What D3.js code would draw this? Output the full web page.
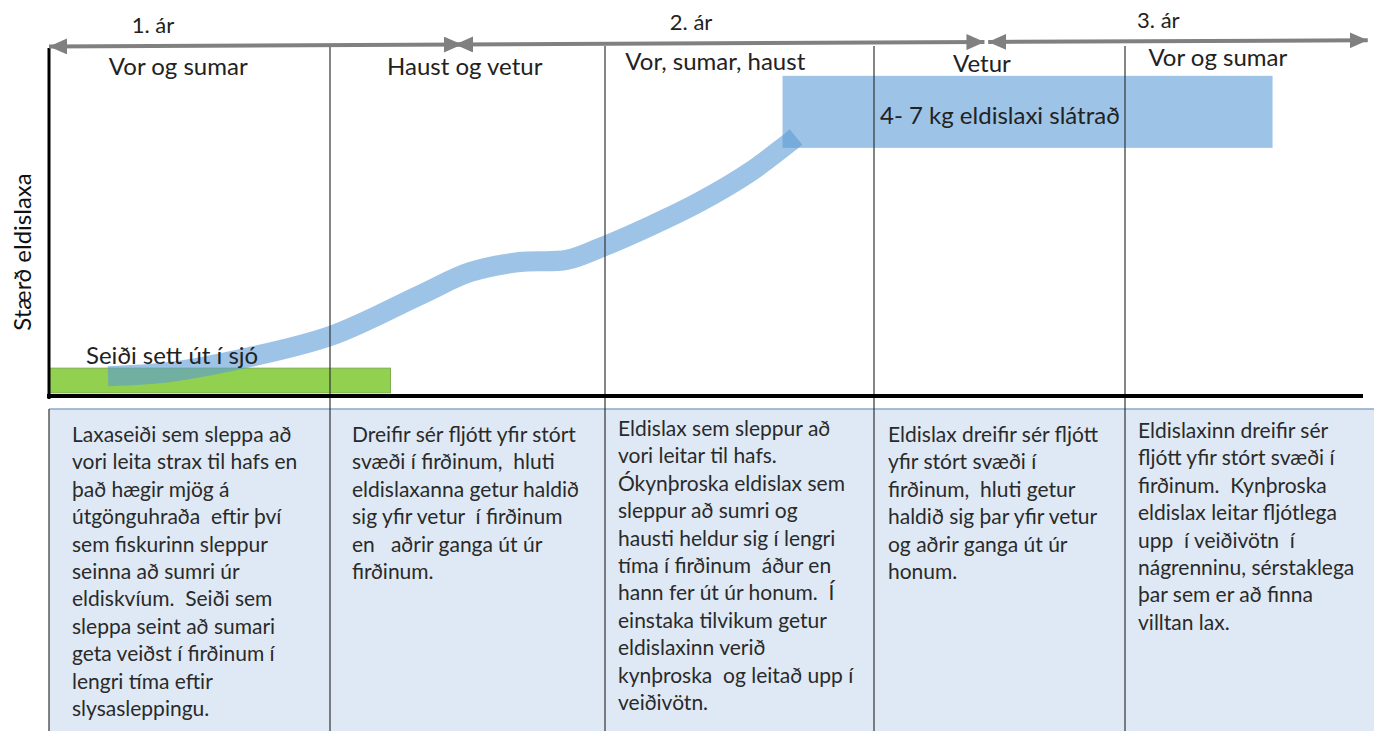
<!DOCTYPE html>
<html>
<head>
<meta charset="utf-8">
<script src="https://cdn.jsdelivr.net/npm/d3@7"></script>
<style>
  html, body { margin: 0; padding: 0; background: #fff; }
  svg { display: block; font-family: Lato, "DejaVu Sans", sans-serif; }
</style>
</head>
<body>
<div id="chart-area"></div>
<script>
// periods along the time axis (one column each)
const periods = ["Vor og sumar", "Haust og vetur", "Vor, sumar, haust", "Vetur", "Vor og sumar"];
const periodLabelAt = [0.46, 1.49, 2.41, 3.43, 4.39];

// year arrows at the top
const years = ["1. ár", "2. ár", "3. ár"];
const yearStart = [0, 1.455, 3.455];
const yearEnd = [1.48, 3.44, 5.02];
const yearLabelAt = [0.37, 2.32, 4.14];

// growth path of farmed salmon (time in periods, size 0-100)
const growthTime = [0.21, 0.43, 0.715, 1.01, 1.327, 1.51, 1.69, 1.86, 1.98, 2.17, 2.35, 2.54, 2.71];
const growthSize = [5.7, 6.9, 11.2, 17.5, 29, 35.6, 38.5, 39.1, 42.5, 48.9, 55.7, 64.4, 74.4];

// smolts released to sea
const smoltLabel = "Seiði sett út í sjó";
const smoltSpan = [0, 1.22];
const smoltSize = [0.9, 8.0];

// harvest
const harvestLabel = "4- 7 kg eldislaxi slátrað";
const harvestSpan = [2.66, 4.62];
const harvestSize = [71.3, 92];

const yLabel = "Stærð eldislaxa";

// text under each column, line by line
const descriptions = [
  ["Laxaseiði sem sleppa að", "vori leita strax til hafs en", "það hægir mjög á",
   "útgönguhraða  eftir því", "sem fiskurinn sleppur", "seinna að sumri úr",
   "eldiskvíum.  Seiði sem", "sleppa seint að sumari", "geta veiðst í firðinum í",
   "lengri tíma eftir", "slysasleppingu."],
  ["Dreifir sér fljótt yfir stórt", "svæði í firðinum,  hluti", "eldislaxanna getur haldið",
   "sig yfir vetur  í firðinum", "en   aðrir ganga út úr", "firðinum."],
  ["Eldislax sem sleppur að", "vori leitar til hafs.", "Ókynþroska eldislax sem",
   "sleppur að sumri og", "hausti heldur sig í lengri", "tíma í firðinum  áður en",
   "hann fer út úr honum.  Í", "einstaka tilvikum getur", "eldislaxinn verið",
   "kynþroska  og leitað upp í", "veiðivötn."],
  ["Eldislax dreifir sér fljótt", "yfir stórt svæði í", "firðinum,  hluti getur",
   "haldið sig þar yfir vetur", "og aðrir ganga út úr", "honum."],
  ["Eldislaxinn dreifir sér", "fljótt yfir stórt svæði í", "firðinum.  Kynþroska",
   "eldislax leitar fljótlega", "upp  í veiðivötn  í", "nágrenninu, sérstaklega",
   "þar sem er að finna", "villtan lax."]
];

const WIDTH = 1374;
const HEIGHT = 731;
const BOUNDS = [49, 330, 605, 874, 1125, 1363];

const svg = d3.select("#chart-area")
  .append("svg")
  .attr("width", WIDTH)
  .attr("height", HEIGHT);

const x = d3.scaleLinear()
  .domain(d3.range(BOUNDS.length))
  .range(BOUNDS);

const y = d3.scaleLinear()
  .domain([0, 100])
  .range([396, 48]);

// lower panel
const panelTop = 409;
svg.append("rect")
  .attr("x", x(0))
  .attr("y", panelTop)
  .attr("width", WIDTH - x(0))
  .attr("height", HEIGHT - panelTop)
  .attr("fill", "#dee9f5");
svg.append("line")
  .attr("x1", x(0)).attr("x2", WIDTH)
  .attr("y1", panelTop).attr("y2", panelTop)
  .attr("stroke", "#8da7c4")
  .attr("stroke-width", 1.5);

// harvest box
svg.append("rect")
  .attr("x", x(harvestSpan[0]))
  .attr("y", y(harvestSize[1]))
  .attr("width", x(harvestSpan[1]) - x(harvestSpan[0]))
  .attr("height", y(harvestSize[0]) - y(harvestSize[1]))
  .attr("fill", "#5b9bd5")
  .attr("fill-opacity", 0.6);

// smolt bar
svg.append("rect")
  .attr("x", x(smoltSpan[0]))
  .attr("y", y(smoltSize[1]))
  .attr("width", x(smoltSpan[1]) - x(smoltSpan[0]))
  .attr("height", y(smoltSize[0]) - y(smoltSize[1]))
  .attr("fill", "#92d050")
  .attr("stroke", "#7cae4c")
  .attr("stroke-width", 1);

// growth curve
const growth = d3.zip(growthTime, growthSize);
const line = d3.line()
  .x(d => x(d[0]))
  .y(d => y(d[1]))
  .curve(d3.curveCatmullRom.alpha(0.5));

svg.append("path")
  .datum(growth)
  .attr("d", line)
  .attr("fill", "none")
  .attr("stroke", "#5b9bd5")
  .attr("stroke-opacity", 0.6)
  .attr("stroke-width", 20)
  .attr("stroke-linecap", "butt");

// column separators
svg.selectAll(".sep")
  .data(d3.range(1, periods.length))
  .enter()
  .append("line")
  .attr("class", "sep")
  .attr("x1", d => x(d)).attr("x2", d => x(d))
  .attr("y1", 46).attr("y2", HEIGHT)
  .attr("stroke", "#333")
  .attr("stroke-width", 1.2);

// panel left border
svg.append("line")
  .attr("x1", x(0)).attr("x2", x(0))
  .attr("y1", panelTop).attr("y2", HEIGHT)
  .attr("stroke", "#333")
  .attr("stroke-width", 1.2);

// axes
svg.append("line")
  .attr("x1", x(0)).attr("x2", x(0))
  .attr("y1", 48).attr("y2", 399)
  .attr("stroke", "#000")
  .attr("stroke-width", 3);
svg.append("line")
  .attr("x1", x(0) - 2).attr("x2", x(5))
  .attr("y1", y(0)).attr("y2", y(0))
  .attr("stroke", "#000")
  .attr("stroke-width", 4);

// year arrows
svg.append("defs").append("marker")
  .attr("id", "head")
  .attr("viewBox", "0 0 18 16")
  .attr("refX", 18).attr("refY", 8)
  .attr("markerWidth", 18).attr("markerHeight", 16)
  .attr("markerUnits", "userSpaceOnUse")
  .attr("orient", "auto-start-reverse")
  .append("path")
  .attr("d", "M0,0L18,8L0,16Z")
  .attr("fill", "#808080");

const arrowY = px => 46.5 - (px - x(0)) * 0.0048;

svg.selectAll(".year-arrow")
  .data(years)
  .enter()
  .append("line")
  .attr("class", "year-arrow")
  .attr("x1", (d, i) => x(yearStart[i]))
  .attr("x2", (d, i) => x(yearEnd[i]))
  .attr("y1", (d, i) => arrowY(x(yearStart[i])))
  .attr("y2", (d, i) => arrowY(x(yearEnd[i])))
  .attr("stroke", "#808080")
  .attr("stroke-width", 4)
  .attr("marker-start", "url(#head)")
  .attr("marker-end", "url(#head)");

svg.selectAll(".year-label")
  .data(years)
  .enter()
  .append("text")
  .attr("class", "year-label")
  .attr("x", (d, i) => x(yearLabelAt[i]))
  .attr("y", (d, i) => arrowY(x(yearLabelAt[i])) - 13)
  .attr("text-anchor", "middle")
  .attr("font-size", 22)
  .attr("fill", "#222")
  .text(d => d);

// period labels
const periodBaseline = [75, 75, 70, 72, 66];
svg.selectAll(".period-label")
  .data(periods)
  .enter()
  .append("text")
  .attr("class", "period-label")
  .attr("x", (d, i) => x(periodLabelAt[i]))
  .attr("y", (d, i) => periodBaseline[i])
  .attr("text-anchor", "middle")
  .attr("font-size", 24)
  .attr("fill", "#222")
  .text(d => d);

// labels on marks
svg.append("text")
  .attr("x", x(3) + 6)
  .attr("y", 124)
  .attr("font-size", 24)
  .attr("fill", "#222")
  .text(harvestLabel);

svg.append("text")
  .attr("x", 86)
  .attr("y", y(smoltSize[1]) - 4)
  .attr("font-size", 24)
  .attr("fill", "#222")
  .text(smoltLabel);

svg.append("text")
  .attr("transform", `translate(31,${(y(0) + y(100)) / 2 + 30}) rotate(-90)`)
  .attr("text-anchor", "middle")
  .attr("font-size", 24)
  .attr("fill", "#111")
  .text(yLabel);

// column descriptions
const textLeft = [23, 22, 13, 14, 13];
const textTop = [442, 442, 436, 442, 438];
const LINE_H = 27.4;

svg.selectAll(".desc")
  .data(descriptions)
  .enter()
  .append("text")
  .attr("class", "desc")
  .attr("font-size", 21)
  .attr("fill", "#2a2a2a")
  .attr("xml:space", "preserve")
  .style("white-space", "pre")
  .each(function (lines, i) {
    d3.select(this).selectAll("tspan")
      .data(lines)
      .enter()
      .append("tspan")
      .attr("x", x(i) + textLeft[i])
      .attr("y", (d, j) => textTop[i] + j * LINE_H)
      .text(d => d);
  });
</script>
</body>
</html>
